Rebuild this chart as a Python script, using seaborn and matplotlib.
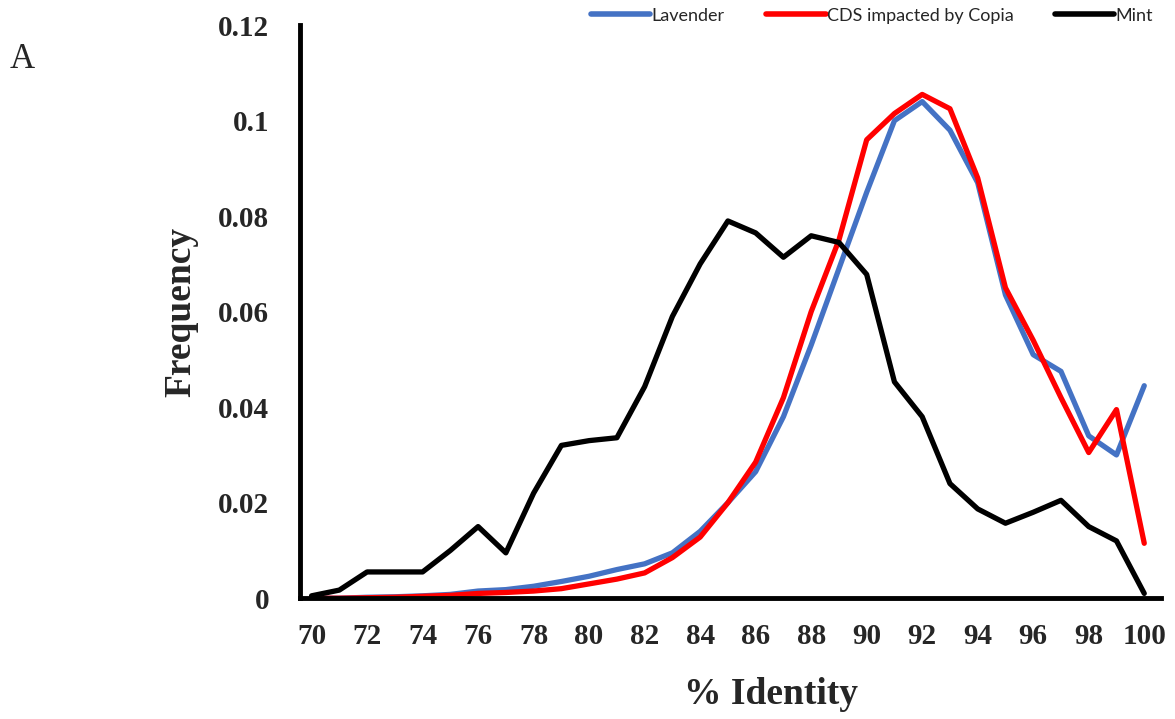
import numpy as np
import pandas as pd
import matplotlib
matplotlib.use("Agg")
import matplotlib.pyplot as plt
import seaborn as sns

identity = list(range(70, 101))
lavender = [0, 0, 0.0002, 0.0003, 0.0005, 0.0008, 0.0015, 0.0018, 0.0025, 0.0035,
            0.0046, 0.006, 0.0072, 0.0095, 0.014, 0.020, 0.0265, 0.038, 0.053, 0.069,
            0.085, 0.100, 0.104, 0.098, 0.087, 0.0635, 0.051, 0.0475, 0.034, 0.030, 0.0445]
cds_copia = [0, 0, 0.0001, 0.0002, 0.0004, 0.0006, 0.001, 0.0012, 0.0015, 0.002,
             0.003, 0.004, 0.0053, 0.0085, 0.0128, 0.020, 0.0285, 0.042, 0.060, 0.075,
             0.096, 0.1015, 0.1055, 0.1025, 0.088, 0.065, 0.054, 0.042, 0.0305, 0.0395, 0.0115]
mint = [0.0005, 0.0017, 0.0055, 0.0055, 0.0055, 0.010, 0.015, 0.0095, 0.022, 0.032,
        0.033, 0.0336, 0.0443, 0.059, 0.070, 0.079, 0.0765, 0.0714, 0.0759, 0.0745,
        0.0678, 0.0453, 0.038, 0.024, 0.0187, 0.0157, 0.018, 0.0205, 0.015, 0.012, 0.001]
series_names = ["Lavender", "CDS impacted by Copia", "Mint"]
colors = ["#4472C4", "#FF0000", "#000000"]
x_ticks = list(range(70, 101, 2))
y_ticks = [0, 0.02, 0.04, 0.06, 0.08, 0.1, 0.12]
y_labels = ["0", "0.02", "0.04", "0.06", "0.08", "0.1", "0.12"]

df = pd.DataFrame({
    "identity": identity * 3,
    "freq": lavender + cds_copia + mint,
    "series": sum([[n] * len(identity) for n in series_names], []),
})

sns.set_theme(style="white")
fig = plt.figure(figsize=(11.75, 7.19), dpi=100)
ax = fig.add_axes([0.255, 0.168, 0.733, 0.797])

sns.lineplot(data=df, x="identity", y="freq", hue="series", hue_order=series_names,
             palette=colors, linewidth=3.8, ax=ax, legend=True)

ax.set_xlim(69.57, 100.6)
ax.set_ylim(0, 0.12)
ax.set_xticks(x_ticks)
ax.set_xticklabels([str(t) for t in x_ticks], fontfamily="Liberation Serif",
                   fontweight="bold", fontsize=21)
ax.set_yticks(y_ticks)
ax.set_yticklabels(y_labels, fontfamily="Liberation Serif", fontweight="bold", fontsize=21)
ax.tick_params(axis="x", length=0, pad=18)
ax.tick_params(axis="y", length=0, pad=22)

for s in ["top", "right"]:
    ax.spines[s].set_visible(False)
for s in ["left", "bottom"]:
    ax.spines[s].set_color("black")
    ax.spines[s].set_linewidth(3.5)

ax.set_xlabel("% Identity", fontfamily="Liberation Serif", fontweight="bold",
              fontsize=27)
ax.xaxis.set_label_coords(0.547, -0.138)
ax.set_ylabel("Frequency", fontfamily="Liberation Serif", fontweight="bold",
              fontsize=27, labelpad=14)

fig.text(0.008, 0.905, "A", fontfamily="Liberation Serif", fontsize=25)

leg = ax.legend(loc="center", bbox_to_anchor=(0.742, 0.978), bbox_transform=fig.transFigure,
                ncol=3, frameon=False, prop={"family": "Lato", "size": 13},
                handlelength=3.3, handletextpad=0.05, columnspacing=2.3)
for line in leg.get_lines():
    line.set_linewidth(4)

fig.savefig("out.png", dpi=100)
